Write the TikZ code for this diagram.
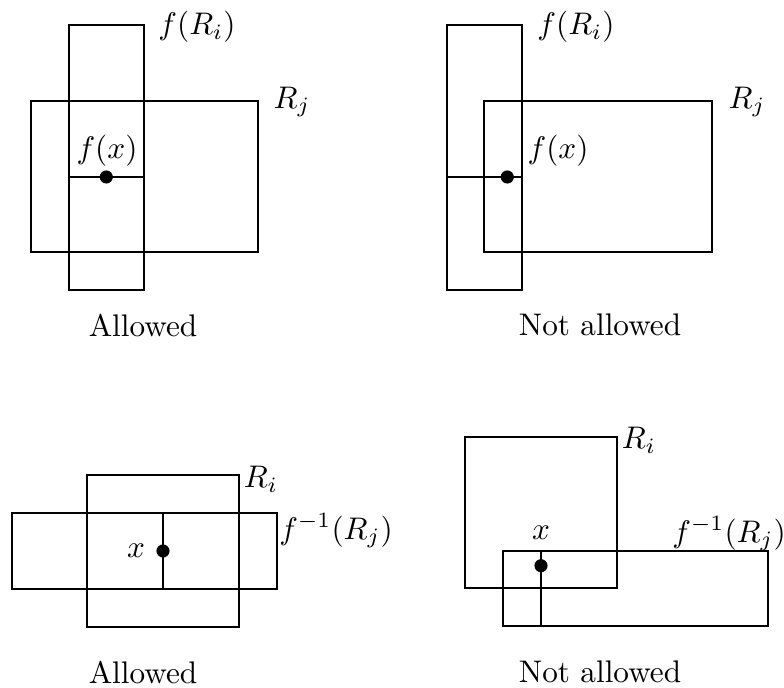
\documentclass[tikz,border=0pt]{standalone}
\begin{document}
\begin{tikzpicture}[x=0.32pt,y=-0.32pt,
  box/.style={draw,line width=0.62pt},
  seg/.style={draw,line width=0.62pt},
  pt/.style={fill,circle,inner sep=0pt,minimum size=4.2pt},
  lab/.style={inner sep=0pt}]
\useasboundingbox (0,0) rectangle (784,688);
% ---------- top left: Allowed ----------
\draw[box] (68.7,25) rectangle (144.3,289.7);
\draw[box] (30.7,101) rectangle (257.7,252);
\coordinate (tlA) at (68.7,177);
\coordinate (tlB) at (144.3,177);
\draw[seg] (tlA) -- (tlB);
\node[pt] (tlx) at (106.3,177) {};
\node[lab] (tlfx) at (107,151) {$f(x)$};
\node[lab] (tlfri) at (197,27) {$f(R_i)$};
\node[lab] (tlrj) at (292,102) {$R_j$};
\node[lab] (tlcap) at (143,325) {Allowed};
% ---------- top right: Not allowed ----------
\draw[box] (446.7,25) rectangle (522,290);
\draw[box] (484,101) rectangle (711.7,252);
\coordinate (trA) at (446.7,177);
\coordinate (trB) at (522,177);
\draw[seg] (trA) -- (trB);
\node[pt] (trx) at (507.3,177) {};
\node[lab] (trfx) at (558,151) {$f(x)$};
\node[lab] (trfri) at (576,27) {$f(R_i)$};
\node[lab] (trrj) at (747,102) {$R_j$};
\node[lab] (trcap) at (600,325) {Not allowed};
% ---------- bottom left: Allowed ----------
\draw[box] (87.3,475) rectangle (238.7,626.7);
\draw[box] (12,513) rectangle (276.7,588.7);
\coordinate (blA) at (163,513);
\coordinate (blB) at (163,588.7);
\draw[seg] (blA) -- (blB);
\node[pt] (blx) at (163,551) {};
\node[lab] (blxl) at (136,551) {$x$};
\node[lab] (blri) at (261,479) {$R_i$};
\node[lab] (blfrj) at (336,531) {$f^{-1}(R_j)$};
\node[lab] (blcap) at (143,672) {Allowed};
% ---------- bottom right: Not allowed ----------
\draw[box] (465.3,437.3) rectangle (616.7,588.3);
\draw[box] (503.3,551) rectangle (768.3,626);
\coordinate (brA) at (541,551);
\coordinate (brB) at (541,626);
\draw[seg] (brA) -- (brB);
\node[pt] (brx) at (541,565.7) {};
\node[lab] (brxl) at (541,533) {$x$};
\node[lab] (brri) at (639,440) {$R_i$};
\node[lab] (brfrj) at (729,534) {$f^{-1}(R_j)$};
\node[lab] (brcap) at (600,672) {Not allowed};
\end{tikzpicture}
\end{document}
